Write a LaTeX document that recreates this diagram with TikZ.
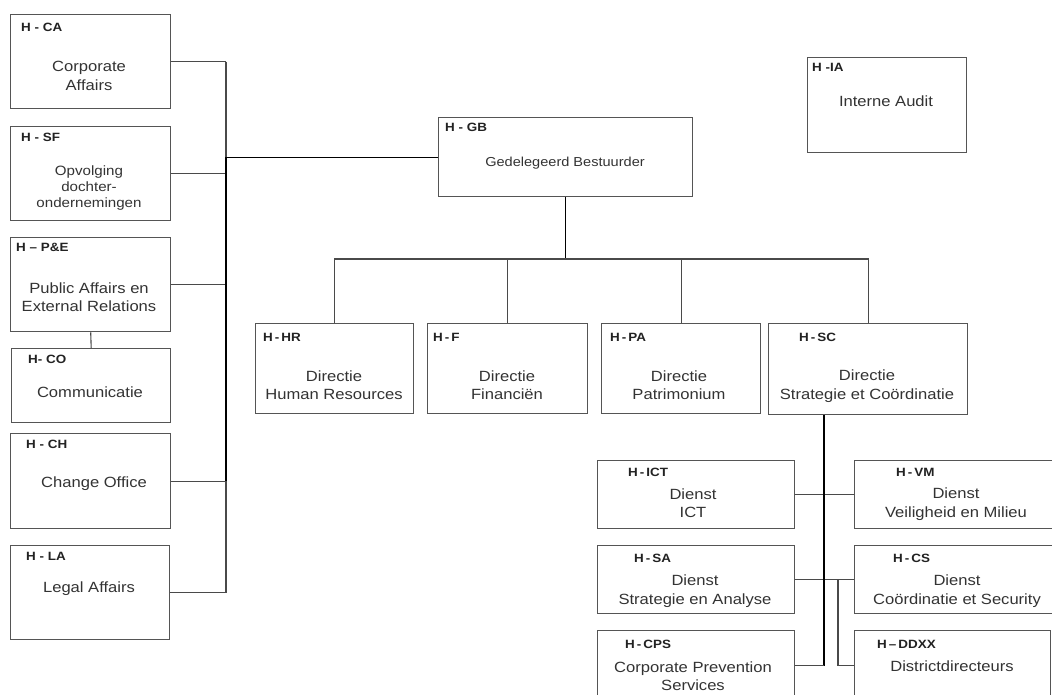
\documentclass[tikz,border=0pt]{standalone}
\usepackage{fontspec}
\setmainfont{Liberation Sans}[FakeStretch=1.12]
\usepackage{xcolor}
\usetikzlibrary{calc}
\definecolor{OrgFrame}{HTML}{555555}
\definecolor{OrgLine}{HTML}{4A4A4A}
\definecolor{OrgText}{HTML}{333333}
\definecolor{OrgCode}{HTML}{222222}

\begin{document}
\begin{tikzpicture}[
  x=1pt, y=-1pt,
  unitbox/.style={
    draw=OrgFrame,
    fill=white,
    line width=1.4pt,
    inner sep=0pt,
    anchor=north west
  },
  unitname/.style={
    align=center,
    inner sep=0pt,
    text=OrgText,
    font=\fontsize{14.8}{18.5}\selectfont
  },
  unitcode/.style={
    anchor=north west,
    inner sep=0pt,
    text=OrgCode,
    font=\fontsize{12}{14}\selectfont\bfseries
  },
  orgline/.style={draw=OrgLine, line width=1.1pt},
  mainline/.style={draw=black, line width=1.5pt}
]
\useasboundingbox (0,0) rectangle (1052,695);
\clip (0,0) rectangle (1052,695);
\fill[white] (0,0) rectangle (1052,695);

% staff units, left column
\node[unitbox, minimum width=160pt, minimum height=94pt] (ca) at (10,14) {};
\node[unitcode] (ca-code) at (21,23) {H - CA};
\node[unitname] (ca-name) at (89,76) {Corporate\\Affairs};

\node[unitbox, minimum width=160pt, minimum height=94pt] (sf) at (10,126) {};
\node[unitcode] (sf-code) at (21,133) {H - SF};
\node[unitname, font=\fontsize{13.5}{16}\selectfont] (sf-name) at (89,188) {Opvolging\\dochter-\\ondernemingen};

\node[unitbox, minimum width=160pt, minimum height=94pt] (pe) at (10,237) {};
\node[unitcode] (pe-code) at (16,243) {H -- P\&E};
\node[unitname] (pe-name) at (89,297) {Public Affairs en\\External Relations};

\node[unitbox, minimum width=159pt, minimum height=74pt] (co) at (11,348) {};
\node[unitcode] (co-code) at (28,355) {H- CO};
\node[unitname] (co-name) at (90,392) {Communicatie};

\node[unitbox, minimum width=160pt, minimum height=95pt] (ch) at (10,433) {};
\node[unitcode] (ch-code) at (26,440) {H - CH};
\node[unitname] (ch-name) at (94,484) {Change Office};

\node[unitbox, minimum width=159pt, minimum height=94pt] (la) at (10,545) {};
\node[unitcode] (la-code) at (26,552) {H - LA};
\node[unitname] (la-name) at (89,589) {Legal Affairs};

% top management
\node[unitbox, minimum width=254pt, minimum height=79pt] (gb) at (438,117) {};
\node[unitcode] (gb-code) at (445,123) {H - GB};
\node[unitname, font=\fontsize{13}{16}\selectfont] (gb-name) at (565,163) {Gedelegeerd Bestuurder};

\node[unitbox, minimum width=159pt, minimum height=95pt] (ia) at (807,57) {};
\node[unitcode] (ia-code) at (812,63) {H -IA};
\node[unitname] (ia-name) at (886,101) {Interne Audit};

% directies
\node[unitbox, minimum width=158pt, minimum height=90pt] (hr) at (255,323) {};
\node[unitcode] (hr-code) at (263,333) {H\,-\,HR};
\node[unitname] (hr-name) at (334,385) {Directie\\Human Resources};

\node[unitbox, minimum width=160pt, minimum height=90pt] (fi) at (427,323) {};
\node[unitcode] (fi-code) at (433,333) {H\,-\,F};
\node[unitname] (fi-name) at (507,385) {Directie\\Financiën};

\node[unitbox, minimum width=159pt, minimum height=90pt] (pa) at (601,323) {};
\node[unitcode] (pa-code) at (610,333) {H\,-\,PA};
\node[unitname] (pa-name) at (679,385) {Directie\\Patrimonium};

\node[unitbox, minimum width=199pt, minimum height=91pt] (sc) at (768,323) {};
\node[unitcode] (sc-code) at (799,333) {H\,-\,SC};
\node[unitname] (sc-name) at (867,386) {Directie\\Strategie et Coördinatie};

% diensten
\node[unitbox, minimum width=197pt, minimum height=68pt] (ict) at (597,460) {};
\node[unitcode] (ict-code) at (628,468) {H\,-\,ICT};
\node[unitname] (ict-name) at (693,503) {Dienst\\ICT};

\node[unitbox, minimum width=204pt, minimum height=68pt] (vm) at (854,460) {};
\node[unitcode] (vm-code) at (896,468) {H\,-\,VM};
\node[unitname] (vm-name) at (956,504) {Dienst\\Veiligheid en Milieu};

\node[unitbox, minimum width=197pt, minimum height=68pt] (sa) at (597,545) {};
\node[unitcode] (sa-code) at (634,554) {H\,-\,SA};
\node[unitname] (sa-name) at (695,591) {Dienst\\Strategie en Analyse};

\node[unitbox, minimum width=204pt, minimum height=68pt] (cs) at (854,545) {};
\node[unitcode] (cs-code) at (893,554) {H\,-\,CS};
\node[unitname] (cs-name) at (957,591) {Dienst\\Coördinatie et Security};

\node[unitbox, minimum width=197pt, minimum height=70pt] (cps) at (597,630) {};
\node[unitcode] (cps-code) at (625,640) {H\,-\,CPS};
\node[unitname] (cps-name) at (693,676) {Corporate Prevention\\Services};

\node[unitbox, minimum width=196pt, minimum height=70pt] (dd) at (854,630) {};
\node[unitcode] (dd-code) at (877,640) {H\,--\,DDXX};
\node[unitname] (dd-name) at (952,666) {Districtdirecteurs};

% connectors
\coordinate (lbus) at (226,0);
\coordinate (topbus) at (0,259);
\coordinate (scdrop) at (824,0);
\coordinate (dddrop) at (838,0);

\draw[orgline] (ca.east) -- (ca.east -| lbus);
\draw[orgline] (sf.east) -- (sf.east -| lbus);
\draw[orgline] (pe.east) -- (pe.east -| lbus);
\draw[orgline] (ch.east) -- (ch.east -| lbus);
\draw[orgline] (la.east) -- (la.east -| lbus);
\draw[orgline] (pe.south) -- (co.north);
\draw[orgline] (ca.east -| lbus) -- (la.east -| lbus);
\draw[mainline] (gb.west -| lbus) -- (ch.east -| lbus);
\draw[mainline, line width=1.2pt] (gb.west) -- (gb.west -| lbus);

\draw[mainline, line width=1.2pt] (gb.south) -- (gb.south |- topbus);
\draw[orgline] (hr.north) -- (hr.north |- topbus) -- (sc.north |- topbus) -- (sc.north);
\draw[orgline] (fi.north) -- (fi.north |- topbus);
\draw[orgline] (pa.north) -- (pa.north |- topbus);

\draw[orgline] (ict.east) -- (vm.west);
\draw[orgline] (sa.east) -- (cs.west);
\draw[mainline] (sc.south -| scdrop) -- (cps.east -| scdrop);
\draw[orgline] (cps.east -| scdrop) -- (cps.east);
\draw[orgline] (sa.east -| dddrop) -- (dd.west -| dddrop) -- (dd.west);
\end{tikzpicture}
\end{document}
